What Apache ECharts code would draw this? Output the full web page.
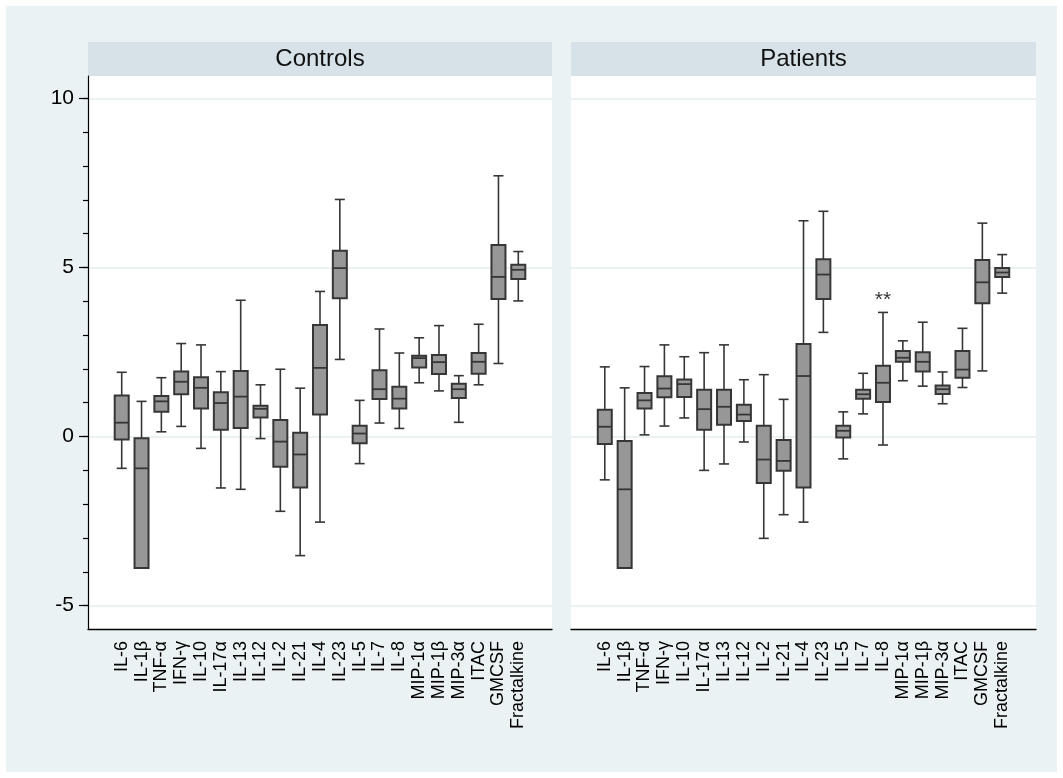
<!DOCTYPE html>
<html><head><meta charset="utf-8">
<script src="https://cdn.jsdelivr.net/npm/echarts@6/dist/echarts.min.js"></script>
<style>html,body{margin:0;padding:0;background:#ffffff}#c{width:1063px;height:778px}</style>
</head><body><div id="c"></div>
<script>
const categories = ['IL-6','IL-1β','TNF-α','IFN-γ','IL-10','IL-17α','IL-13','IL-12','IL-2','IL-21','IL-4','IL-23','IL-5','IL-7','IL-8','MIP-1α','MIP-1β','MIP-3α','ITAC','GMCSF','Fractalkine'];
const panelTitles = ['Controls', 'Patients'];
const yTickLabels = [-5, 0, 5, 10];
const yMinorTicks = [-5,-4,-3,-2,-1,0,1,2,3,4,5,6,7,8,9,10];

// Controls: lower whisker, Q1, median, Q3, upper whisker
const controlsMin    = [-0.94,-3.89,0.14,0.30,-0.35,-1.52,-1.56,-0.06,-2.21,-3.52,-2.53,2.28,-0.80,0.40,0.24,1.59,1.35,0.42,1.53,2.16,4.01];
const controlsQ1     = [-0.09,-3.89,0.73,1.25,0.83,0.20,0.25,0.56,-0.89,-1.51,0.65,4.09,-0.20,1.11,0.83,2.04,1.85,1.14,1.86,4.07,4.66];
const controlsMedian = [0.41,-0.94,1.04,1.62,1.44,0.99,1.18,0.82,-0.15,-0.53,2.03,4.98,0.09,1.40,1.12,2.32,2.20,1.40,2.21,4.72,4.93];
const controlsQ3     = [1.21,-0.05,1.20,1.92,1.75,1.31,1.94,0.91,0.49,0.11,3.30,5.49,0.32,1.96,1.47,2.39,2.41,1.56,2.47,5.66,5.08];
const controlsMax    = [1.90,1.04,1.74,2.75,2.71,1.92,4.03,1.53,1.99,1.43,4.29,7.01,1.07,3.18,2.47,2.92,3.28,1.80,3.32,7.71,5.47];

// Patients: lower whisker, Q1, median, Q3, upper whisker
const patientsMin    = [-1.28,-3.89,0.05,0.31,0.55,-1.00,-0.81,-0.16,-3.01,-2.31,-2.53,3.08,-0.66,0.67,-0.25,1.65,1.49,0.97,1.45,1.94,4.24];
const patientsQ1     = [-0.22,-3.89,0.83,1.16,1.17,0.20,0.35,0.46,-1.37,-1.01,-1.51,4.07,-0.03,1.12,1.02,2.21,1.92,1.26,1.74,3.94,4.72];
const patientsMedian = [0.29,-1.56,1.07,1.42,1.55,0.81,0.88,0.65,-0.68,-0.72,1.79,4.79,0.17,1.25,1.59,2.33,2.21,1.40,1.98,4.56,4.85];
const patientsQ3     = [0.79,-0.13,1.29,1.78,1.69,1.38,1.38,0.94,0.32,-0.10,2.74,5.24,0.32,1.38,2.09,2.53,2.49,1.51,2.53,5.22,4.98];
const patientsMax    = [2.06,1.44,2.07,2.71,2.36,2.48,2.71,1.68,1.83,1.10,6.38,6.66,0.73,1.87,3.67,2.83,3.38,1.91,3.20,6.31,5.38];

const significance = [{category: 'IL-8', label: '**', y: 4.02}];

const FONT = "'Liberation Sans', Arial, Helvetica, sans-serif";
const idx = categories.map((_, i) => i);
const build = (mn, q1, md, q3, mx) => idx.map(i => [i, mn[i], q1[i], md[i], q3[i], mx[i]]);
const controlsData = build(controlsMin, controlsQ1, controlsMedian, controlsQ3, controlsMax);
const patientsData = build(patientsMin, patientsQ1, patientsMedian, patientsQ3, patientsMax);

const STROKE = '#363636', FILL = '#979797';
function renderBox(params, api) {
  const x = api.value(0);
  const pMin = api.coord([x, api.value(1)]);
  const pQ1 = api.coord([x, api.value(2)]);
  const pMed = api.coord([x, api.value(3)]);
  const pQ3 = api.coord([x, api.value(4)]);
  const pMax = api.coord([x, api.value(5)]);
  const cx = pMed[0], hb = 7, hc = 5;
  const ls = {stroke: STROKE, lineWidth: 1.6};
  const children = [
    {type: 'line', shape: {x1: cx, y1: pMax[1], x2: cx, y2: pQ3[1]}, style: ls},
    {type: 'line', shape: {x1: cx - hc, y1: pMax[1], x2: cx + hc, y2: pMax[1]}, style: ls}
  ];
  if (pMin[1] - pQ1[1] > 0.5) {
    children.push({type: 'line', shape: {x1: cx, y1: pQ1[1], x2: cx, y2: pMin[1]}, style: ls});
    children.push({type: 'line', shape: {x1: cx - hc, y1: pMin[1], x2: cx + hc, y2: pMin[1]}, style: ls});
  }
  children.push({type: 'rect', shape: {x: cx - hb, y: pQ3[1], width: 2 * hb, height: pQ1[1] - pQ3[1]},
    style: {fill: FILL, stroke: STROKE, lineWidth: 2}});
  children.push({type: 'line', shape: {x1: cx - hb, y1: pMed[1], x2: cx + hb, y2: pMed[1]}, style: {stroke: STROKE, lineWidth: 1.8}});
  return {type: 'group', children};
}

const XMIN = -1.7, XMAX = 21.7, YMIN = -5.69, YMAX = 10.66;
const GRID_TOP = 76, GRID_H = 553;
const panels = [{left: 88, width: 464}, {left: 571, width: 465}];

function xAxisFor(g) {
  return {
    gridIndex: g, type: 'value', min: XMIN, max: XMAX,
    axisLine: {show: true, onZero: false, lineStyle: {color: '#000', width: 1.4}},
    axisTick: {show: false, customValues: idx},
    axisLabel: {customValues: idx, rotate: 90, formatter: v => categories[Math.round(v)] || '',
      fontSize: 18, color: '#000', margin: 12, fontFamily: FONT},
    splitLine: {show: false}
  };
}

const option = {
  backgroundColor: '#ffffff',
  animation: false,
  graphic: [
    {type: 'rect', shape: {x: 6, y: 6, width: 1051, height: 766}, style: {fill: '#eaf2f3'}, z: -10, silent: true},
    ...panels.map((p, i) => ({type: 'rect', shape: {x: p.left, y: 42, width: p.width, height: 34}, style: {fill: '#d6e2e7'}, z: -5})),
    ...panels.map((p, i) => ({type: 'rect', shape: {x: p.left, y: GRID_TOP, width: p.width, height: GRID_H}, style: {fill: '#ffffff'}, z: -5})),
    ...panels.map((p, i) => ({type: 'text', x: p.left + p.width / 2, y: 59,
      style: {text: panelTitles[i], font: '24px ' + FONT, fill: '#111', textAlign: 'center', textVerticalAlign: 'middle'}, z: 5}))
  ],
  grid: [
    {left: panels[0].left, top: GRID_TOP, width: panels[0].width, height: GRID_H, containLabel: false, outerBoundsMode: 'none'},
    {left: panels[1].left, top: GRID_TOP, width: panels[1].width, height: GRID_H, containLabel: false, outerBoundsMode: 'none'},
    {left: panels[0].left, top: GRID_TOP, width: panels[0].width, height: GRID_H, containLabel: false, outerBoundsMode: 'none'}
  ],
  xAxis: [xAxisFor(0), xAxisFor(1), {gridIndex: 2, type: 'value', min: XMIN, max: XMAX, show: false, axisLine: {onZero: false}}],
  yAxis: [
    {gridIndex: 0, type: 'value', min: YMIN, max: YMAX,
      axisLine: {show: true, onZero: false, lineStyle: {color: '#000', width: 1.2}},
      axisTick: {show: true, length: 9, customValues: yTickLabels, lineStyle: {color: '#000', width: 1.2}},
      axisLabel: {customValues: yTickLabels, fontSize: 21, color: '#000', margin: 14, fontFamily: FONT},
      splitLine: {show: true, lineStyle: {color: '#e4eef1', width: 1.5}}},
    {gridIndex: 1, type: 'value', min: YMIN, max: YMAX,
      axisLine: {show: false, onZero: false}, axisTick: {show: false, customValues: yTickLabels},
      axisLabel: {show: false},
      splitLine: {show: true, lineStyle: {color: '#e4eef1', width: 1.5}}},
    {gridIndex: 2, type: 'value', min: YMIN, max: YMAX,
      axisLine: {show: false, onZero: false}, axisTick: {show: true, length: 5, customValues: yMinorTicks, lineStyle: {color: '#000', width: 1.2}},
      axisLabel: {show: false}, splitLine: {show: false}}
  ],
  series: [
    {type: 'custom', xAxisIndex: 0, yAxisIndex: 0, data: controlsData, renderItem: renderBox,
      encode: {x: 0, y: [1, 2, 3, 4, 5]}, clip: false},
    {type: 'custom', xAxisIndex: 1, yAxisIndex: 1, data: patientsData, renderItem: renderBox,
      encode: {x: 0, y: [1, 2, 3, 4, 5]}, clip: false},
    {type: 'scatter', xAxisIndex: 1, yAxisIndex: 1, symbolSize: 0, silent: true,
      data: significance.map(s => [categories.indexOf(s.category), s.y]),
      label: {show: true, position: 'inside', formatter: () => significance[0].label, fontSize: 21, color: '#000', fontFamily: FONT}}
  ]
};
const chart = echarts.init(document.getElementById('c'), null, {renderer: 'canvas'});
chart.setOption(option);
</script></body></html>
